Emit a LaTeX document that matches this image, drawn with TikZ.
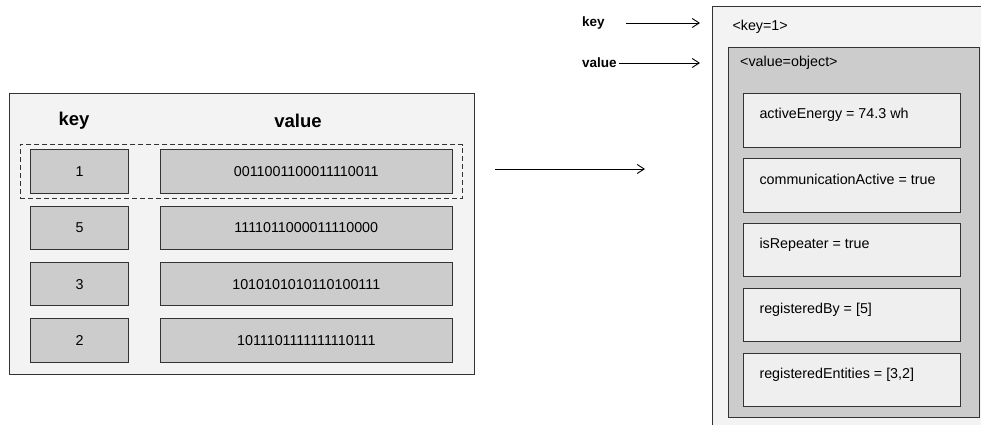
\documentclass[tikz,border=0pt]{standalone}
\usepackage{fontspec}
\setmainfont{Liberation Sans}
\usetikzlibrary{positioning,fit,arrows.meta}

\definecolor{panelfill}{HTML}{F3F3F3}
\definecolor{cellfill}{HTML}{CCCCCC}
\definecolor{attrfill}{HTML}{EFEFEF}
\definecolor{edgecol}{HTML}{333333}

\tikzset{
  txt/.style={font=\fontsize{14.3}{17}\selectfont},
  hdr/.style={font=\bfseries\fontsize{18.5}{22}\selectfont},
  tag/.style={font=\bfseries\fontsize{13.5}{16}\selectfont, anchor=west, inner sep=0},
  panel/.style={draw=edgecol, line width=1pt, anchor=north west},
  cell/.style={draw=edgecol, fill=cellfill, line width=1pt, minimum height=43.6pt, inner sep=0, txt},
  keycell/.style={cell, minimum width=97.6pt},
  valcell/.style={cell, minimum width=292pt},
  attr/.style={draw=edgecol, fill=attrfill, line width=1pt, minimum width=216.7pt, minimum height=53.4pt,
    label={[txt, anchor=west, inner sep=0, xshift=16pt, yshift=-21.7pt]north west:{#1}}},
  pointer/.style={-{Straight Barb[length=7pt,width=9pt]}, line width=0.9pt}
}

\begin{document}
\begin{tikzpicture}[x=1pt,y=-1pt]
\clip (0,0) rectangle (981,425);
\node[panel, fill=panelfill, minimum width=465pt, minimum height=281pt] (table) at (9,93) {};
\node[hdr] (keyhdr) at (74,121) {key};
\node[hdr] (valhdr) at (298,121) {value};
\node[keycell] (k1) at (79.5,171.5) {1};
\node[keycell, below=11.7pt of k1] (k2) {5};
\node[keycell, below=11.7pt of k2] (k3) {3};
\node[keycell, below=11.7pt of k3] (k4) {2};
\node[valcell, right=31pt of k1] (v1) {0011001100011110011};
\node[valcell, right=31pt of k2] (v2) {1111011000011110000};
\node[valcell, right=31pt of k3] (v3) {1010101010110100111};
\node[valcell, right=31pt of k4] (v4) {1011101111111110111};
\node[draw=edgecol, dash pattern=on 5pt off 3pt, line width=1pt, inner xsep=10pt, inner ysep=4.7pt, fit=(k1)(v1)] (sel) {};

\coordinate (mapfrom) at (495,169);
\coordinate (mapto) at (645,169);
\draw[pointer] (mapfrom) -- (mapto);

\node[panel, fill=panelfill, minimum width=290pt, minimum height=440pt] (entry) at (711.7,6) {};
\node[txt, anchor=west, inner sep=0] (keytxt) at (732.3,26.7) {<key=1>};
\node[panel, fill=cellfill, minimum width=251pt, minimum height=370.3pt] (obj) at (728.3,47) {};
\node[txt, anchor=west, inner sep=0] (objtxt) at (740,63.3) {<value=object>};
\node[attr={activeEnergy = 74.3 wh}, anchor=north west] (a1) at (743.3,93.3) {};
\node[attr={communicationActive = true}, below=10.45pt of a1] (a2) {};
\node[attr={isRepeater = true}, below=10.45pt of a2] (a3) {};
\node[attr={registeredBy = [5]}, below=10.45pt of a3] (a4) {};
\node[attr={registeredEntities = [3,2]}, below=10.45pt of a4] (a5) {};

\node[tag] (keytag) at (582,23) {key};
\node[tag] (valtag) at (582,63) {value};
\draw[pointer, shorten <=21pt, shorten >=11.7pt] (keytag.east) -- (keytag.east -| entry.west);
\draw[pointer, shorten <=2pt, shorten >=11.7pt] (valtag.east) -- (valtag.east -| entry.west);
\end{tikzpicture}
\end{document}
